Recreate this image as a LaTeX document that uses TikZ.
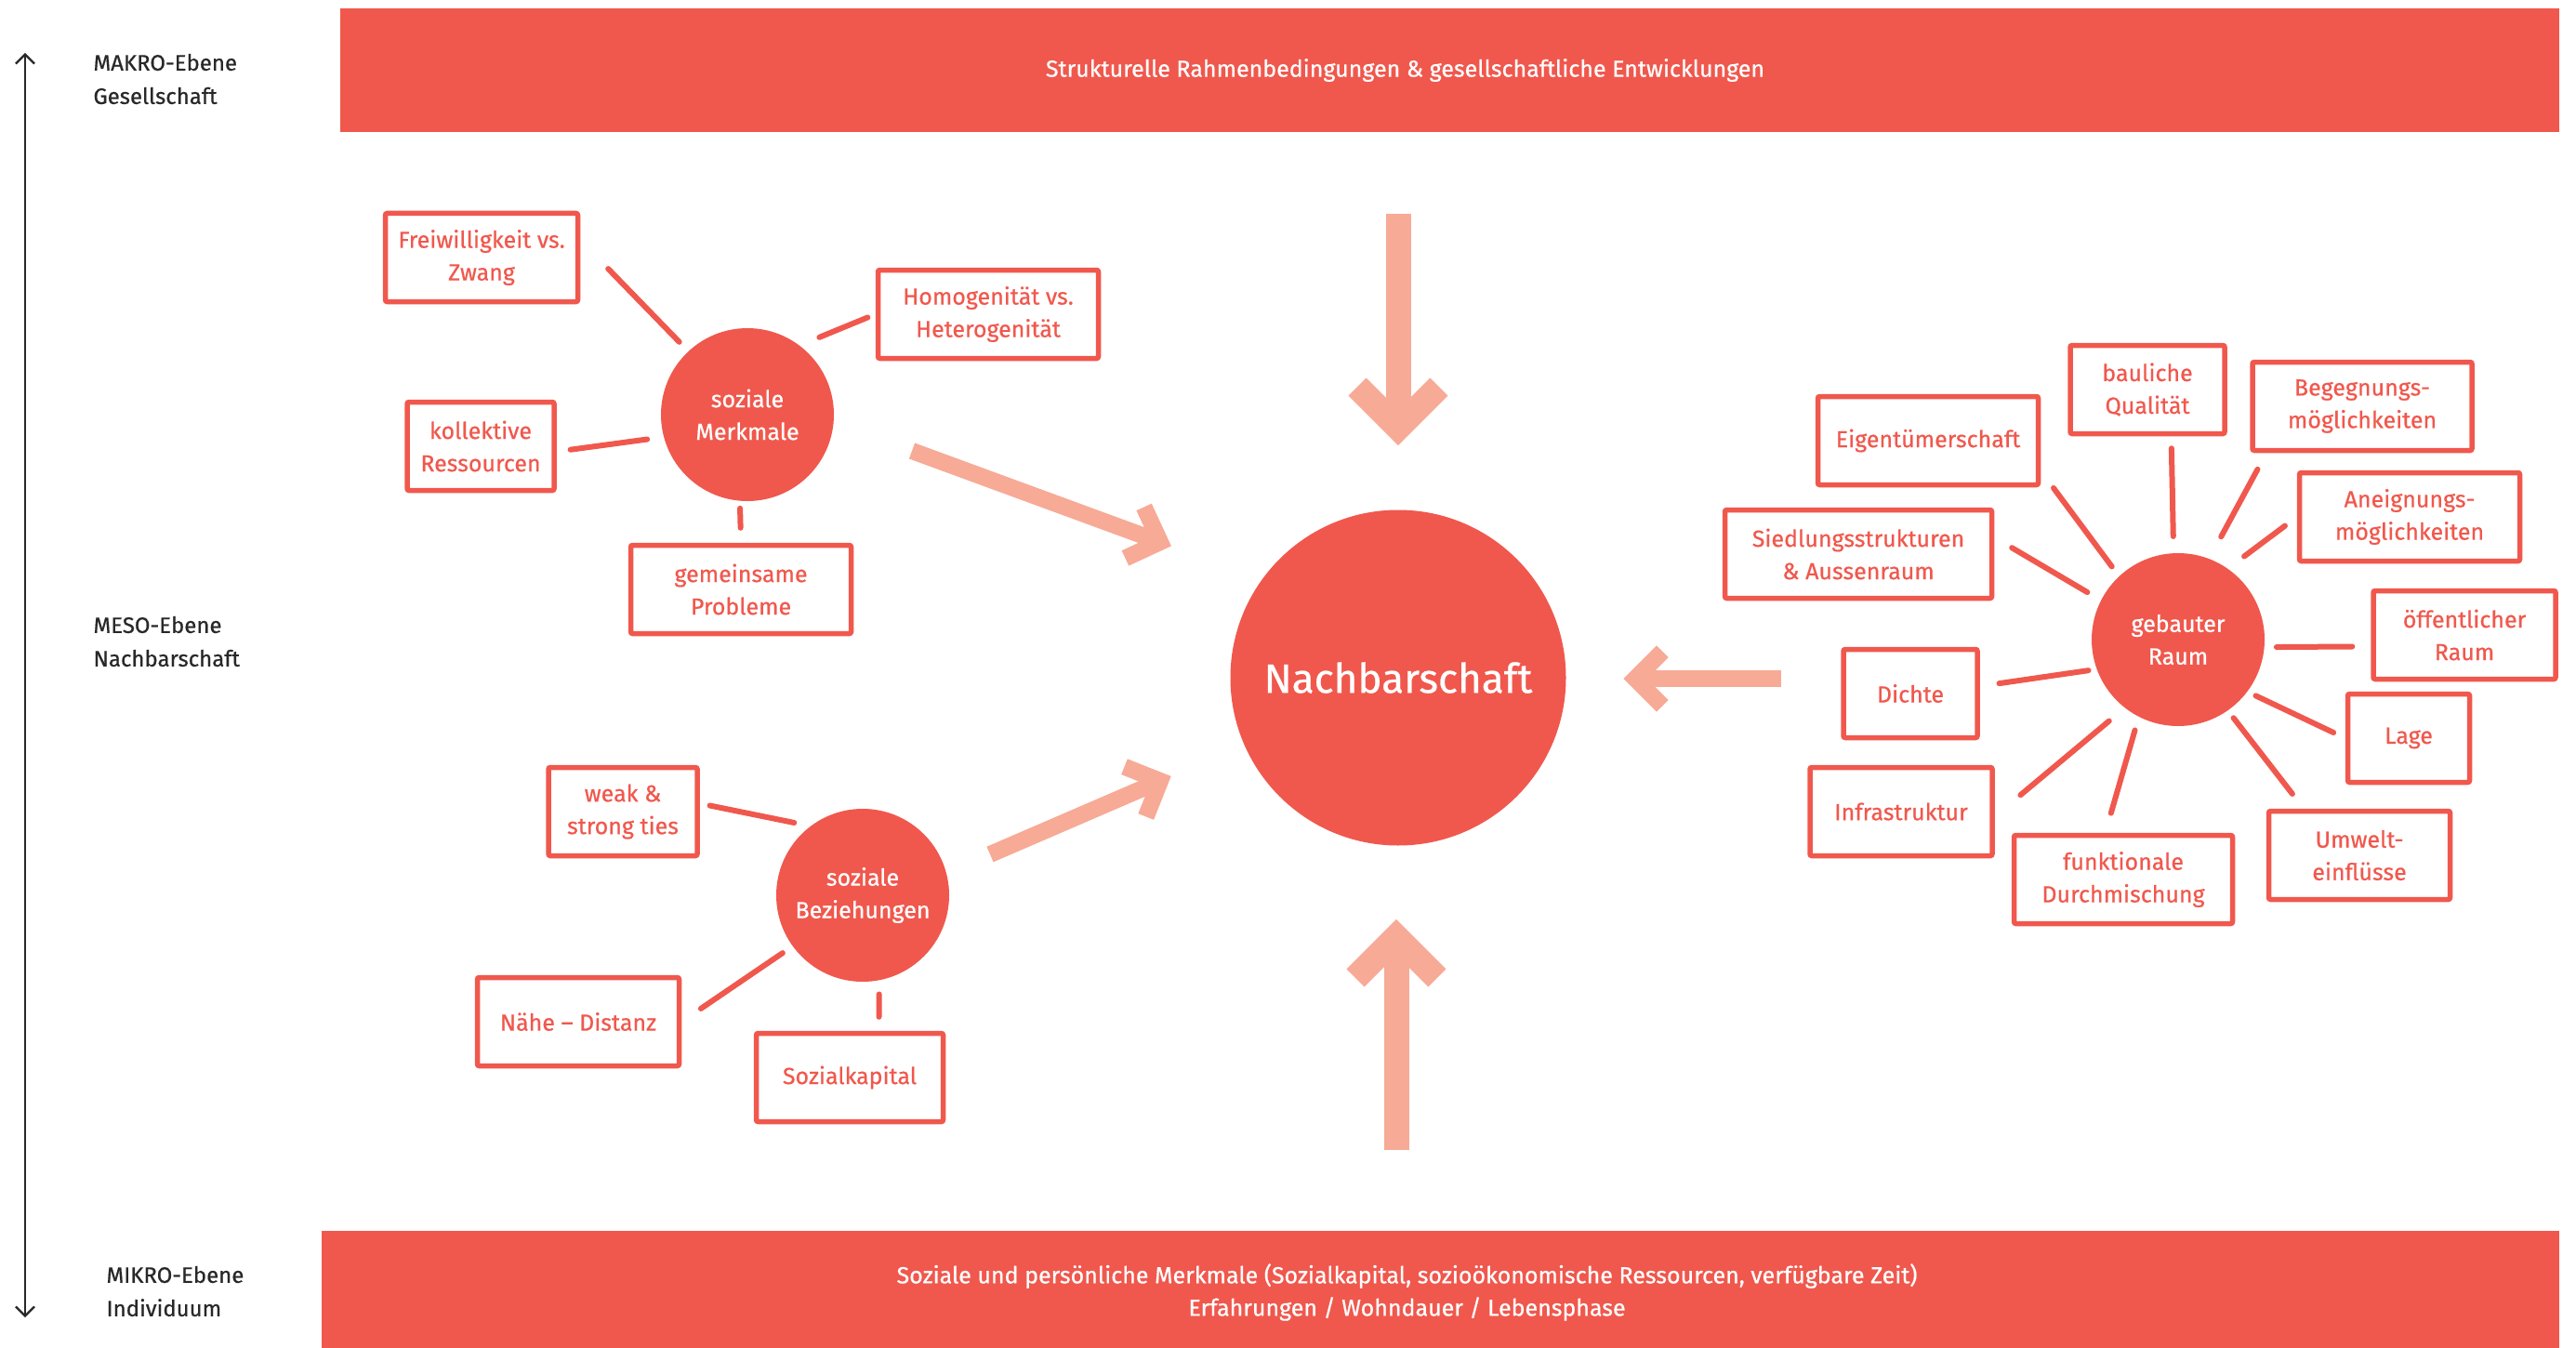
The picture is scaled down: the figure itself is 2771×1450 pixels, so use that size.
\documentclass[tikz,border=0pt]{standalone}
\usepackage{fontspec}
\setmainfont{Fira Sans}[FakeBold=0.6]
\usetikzlibrary{calc,arrows.meta}
\definecolor{nbred}{RGB}{240,88,77}
\definecolor{nbsalmon}{RGB}{247,170,150}
\definecolor{nbgray}{RGB}{40,40,40}
\begin{document}
\begin{tikzpicture}[x=1pt, y=-1pt]
    \tikzstyle{feature}=[draw=nbred, line width=5.5, rounded corners=2, text=nbred, align=center, minimum height=95, inner sep=0pt, font=\fontsize{25}{35}\selectfont]
    \tikzstyle{hub}=[circle, fill=nbred, text=white, align=center, minimum size=186, inner sep=0pt, font=\fontsize{25}{35}\selectfont]
    \tikzstyle{spoke}=[draw=nbred, line width=6, line cap=round]
    \tikzstyle{flow}=[draw=nbsalmon, line cap=butt]
    \tikzstyle{level}=[anchor=west, align=left, text=nbgray, font=\fontsize{24}{36}\selectfont]
    \tikzstyle{bar}=[fill=nbred, inner sep=0pt]
    \tikzstyle{bartext}=[text=white, align=center, font=\fontsize{25}{35}\selectfont]

    \useasboundingbox (0,0) rectangle (2771,1450);

    % Draw the level axis and labels
    \coordinate (ax-top) at (27,57);
    \coordinate (ax-bot) at (27,1417);
    \draw[nbgray, line width=2.2, {Straight Barb[length=10pt,width=20pt]}-{Straight Barb[length=10pt,width=20pt]}] (ax-top) -- (ax-bot);
    \node[level] (makro-l) at (97,85) {MAKRO-Ebene\\Gesellschaft};
    \node[level] (meso-l) at (97,690) {MESO-Ebene\\Nachbarschaft};
    \node[level] (mikro-l) at (111,1389) {MIKRO-Ebene\\Individuum};

    % Draw the bars
    \node[bar, minimum width=2387, minimum height=133] (makro) at (1559.5,75.5) {};
    \node[bartext] at ([xshift=-48]makro.center) {Strukturelle Rahmenbedingungen \& gesellschaftliche Entwicklungen};
    \node[bar, minimum width=2407, minimum height=127] (mikro) at (1549.5,1387) {};
    \node[bartext] at ([xshift=-36,yshift=-3]mikro.center) {Soziale und persönliche Merkmale (Sozialkapital, sozioökonomische Ressourcen, verfügbare Zeit)\\Erfahrungen / Wohndauer / Lebensphase};

    % Draw the hubs
    \node[hub, minimum size=361, font=\fontsize{44}{50}\selectfont] (nb) at (1504,729) {Nachbarschaft};
    \node[hub] (sm) at (804,446) {soziale\\Merkmale};
    \node[hub] (sb) at (928,963) {soziale\\Beziehungen};
    \node[hub] (gr) at (2343,688) {gebauter\\Raum};

    % Draw the feature boxes
    \foreach \name/\x/\y/\w/\txt in {
        frw/518/277/207/{Freiwilligkeit vs.\\Zwang},
        hom/1063/338/237/{Homogenität vs.\\Heterogenität},
        kol/517/480/158/{kollektive\\Ressourcen},
        gem/797/634/237/{gemeinsame\\Probleme},
        weak/670/873/160/{weak \&\\strong ties},
        nah/622/1099/217/{Nähe – Distanz},
        sk/914/1159/201/{Sozialkapital},
        baul/2310/419/166/{bauliche\\Qualität},
        beg/2541/437/236/{Begegnungs-\\möglichkeiten},
        eig/2074/474/237/{Eigentümerschaft},
        sied/1999/596/287/{Siedlungsstrukturen\\\& Aussenraum},
        ane/2592/556/237/{Aneignungs-\\möglichkeiten},
        oef/2651/683/196/{öffentlicher\\Raum},
        dic/2055/746/144/{Dichte},
        lag/2591/794/131/{Lage},
        inf/2045/873/196/{Infrastruktur},
        fun/2284/946/235/{funktionale\\Durchmischung},
        umw/2538/920/195/{Umwelt-\\einflüsse}}
      \node[feature, minimum width=\w] (\name) at (\x,\y) {\txt};

    % Connect hubs and boxes
    \foreach \hb/\a/\ft/\b/\s/\e in {
        sm/133/frw/10/14/43, sm/53/hom/180/23/9, sm/195/kol/356/18/15, sm/265/gem/90/8/16,
        sb/127/weak/6/18/11, sb/216/nah/0/13/25, sb/281/sk/58/15/15,
        gr/93/baul/297/18/13, gr/69/beg/206/27/20, gr/55/ane/180/22/16, gr/133/eig/345/13/23,
        gr/153/sied/7/17/22, gr/355/oef/187/13/20, gr/200/dic/6/9/21, gr/323/lag/180/10/14,
        gr/232/inf/357/22/36, gr/243/fun/111/15/22, gr/305/umw/140/10/20}
      \draw[spoke, shorten <=\s, shorten >=\e] (\hb.\a) -- (\ft.\b);

    % Draw the influence arrows
    \coordinate (top-s) at (1504,230);  \coordinate (top-e) at (1504,460);
    \coordinate (bot-s) at (1502,1237); \coordinate (bot-e) at (1502,1008);
    \coordinate (gr-s) at (1916,730);   \coordinate (gr-e) at (1759,730);
    \coordinate (sm-s) at (981,485);    \coordinate (sm-e) at (1248,583);
    \coordinate (sb-s) at (1065,919);   \coordinate (sb-e) at (1248,840);
    \foreach \s/\e/\w in {top-s/top-e/27, bot-s/bot-e/27, gr-s/gr-e/18, sm-s/sm-e/18, sb-s/sb-e/18} {
      \pgfmathsetmacro\arm{2.3*\w}
      \draw[flow, line width=\w] (\s) -- (\e);
      \draw[flow, line width=\w, line join=miter] ($(\e)!\arm pt!45:(\s)$) -- (\e) -- ($(\e)!\arm pt!-45:(\s)$);
    }
\end{tikzpicture}
\end{document}
